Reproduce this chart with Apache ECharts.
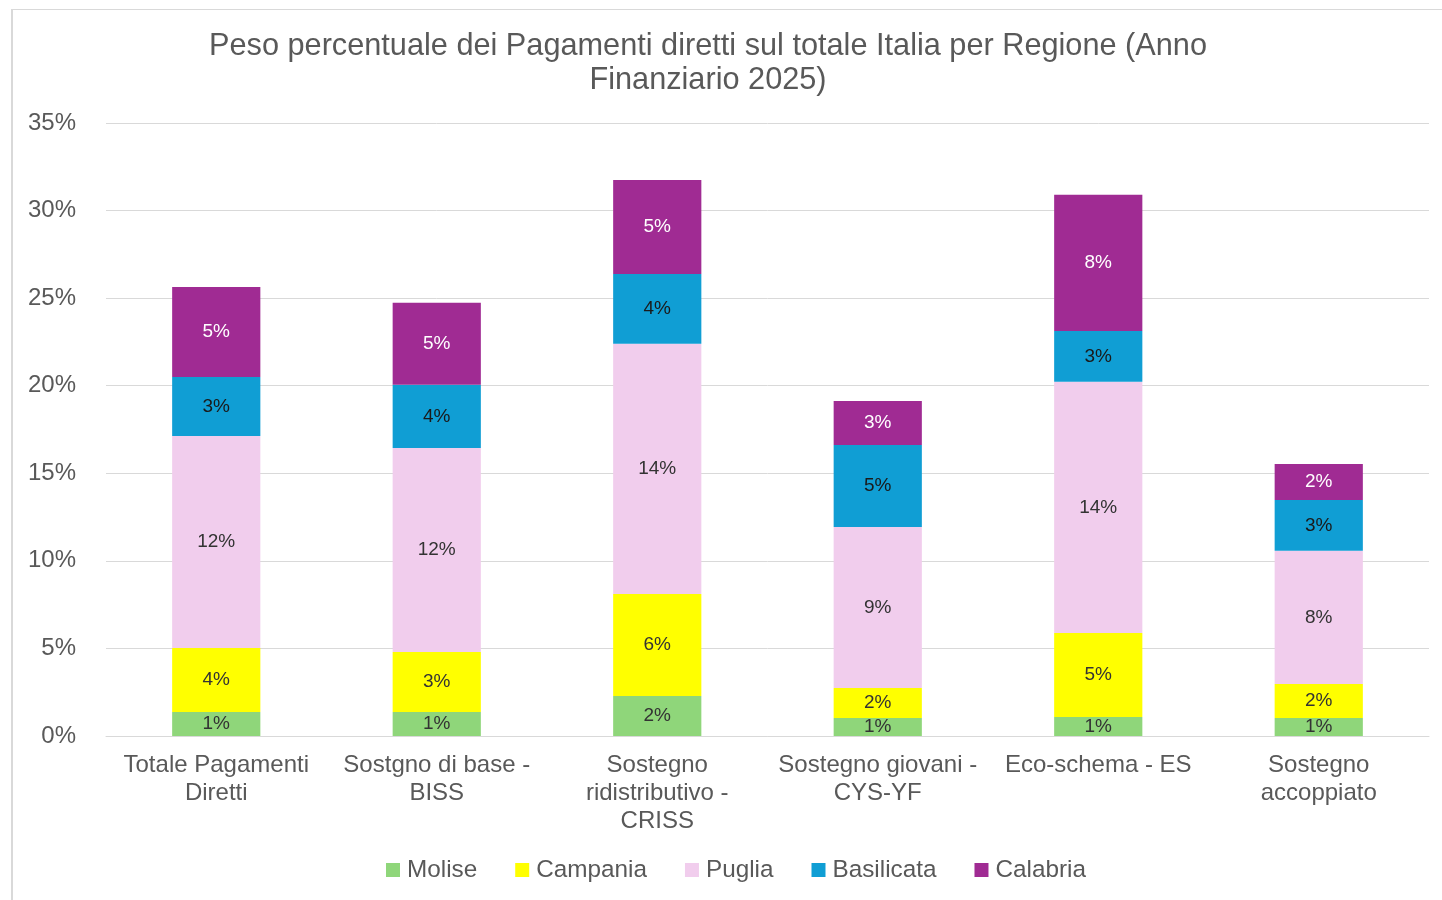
<!DOCTYPE html>
<html>
<head>
<meta charset="utf-8">
<script src="https://cdn.jsdelivr.net/npm/echarts@6/dist/echarts.min.js"></script>
<style>
  html, body { margin: 0; padding: 0; background: #ffffff; }
  #frame { position: absolute; left: 11px; top: 9px; width: 1440px; height: 900px; border-left: 2px solid #d9d9d9; border-top: 1px solid #d9d9d9; }
  #chart { position: absolute; left: 0; top: 0; width: 1442px; height: 900px; }
</style>
</head>
<body>
<div id="frame"></div>
<div id="chart"></div>
<script>
// Categories (payment types) and regional shares, in percent of the Italian total
const categories = [
  'Totale Pagamenti\nDiretti',
  'Sostgno di base -\nBISS',
  'Sostegno\nridistributivo -\nCRISS',
  'Sostegno giovani -\nCYS-YF',
  'Eco-schema - ES',
  'Sostegno\naccoppiato'
];
const molise     = [1.37, 1.37, 2.28, 1.03, 1.09, 1.03];
const campania   = [3.65, 3.43, 5.83, 1.71, 4.79, 1.94];
const puglia     = [12.11, 11.65, 14.28, 9.20, 14.34, 7.60];
const basilicata = [3.37, 3.60, 3.99, 4.68, 2.91, 2.91];
const calabria   = [5.14, 4.68, 5.37, 2.51, 7.77, 2.05];
const yTicks = [0, 5, 10, 15, 20, 25, 30, 35];

const FONT = 'Liberation Sans, Arial, sans-serif';
const chart = echarts.init(document.getElementById('chart'), null, { renderer: 'canvas' });

function stackSeries(name, data, color, labelColor) {
  return {
    name: name,
    type: 'bar',
    stack: 'total',
    data: data,
    barWidth: '40%',
    itemStyle: { color: color },
    label: {
      show: true,
      position: 'inside',
      color: labelColor,
      fontFamily: FONT,
      fontSize: 19,
      formatter: p => Math.round(p.value) + '%'
    }
  };
}

chart.setOption({
  animation: false,
  textStyle: { fontFamily: FONT },
  title: {
    text: 'Peso percentuale dei Pagamenti diretti sul totale Italia per Regione (Anno\nFinanziario 2025)',
    left: 703,
    top: 25,
    textAlign: 'center',
    textStyle: {
      fontFamily: FONT,
      fontSize: 30.7,
      fontWeight: 'normal',
      color: '#595959',
      lineHeight: 34
    }
  },
  legend: {
    top: 853,
    left: 381,
    itemWidth: 14,
    itemHeight: 14,
    itemGap: 38,
    icon: 'rect',
    textStyle: { fontSize: 24.3, color: '#595959', fontFamily: FONT, padding: [0, 0, 0, 2] },
    data: ['Molise', 'Campania', 'Puglia', 'Basilicata', 'Calabria']
  },
  grid: { left: 106, right: 13, top: 123, bottom: 164, containLabel: false },
  xAxis: {
    type: 'category',
    data: categories,
    axisTick: { show: false },
    axisLine: { lineStyle: { color: '#d9d9d9' } },
    axisLabel: {
      color: '#595959',
      fontSize: 24,
      lineHeight: 28,
      margin: 15,
      interval: 0,
      fontFamily: FONT
    }
  },
  yAxis: {
    type: 'value',
    min: yTicks[0],
    max: yTicks[yTicks.length - 1],
    interval: 5,
    axisLine: { show: false },
    axisTick: { show: false },
    splitLine: { lineStyle: { color: '#d9d9d9', width: 1 } },
    axisLabel: {
      color: '#595959',
      fontSize: 24,
      margin: 30,
      formatter: v => v + '%',
      fontFamily: FONT
    }
  },
  series: [
    stackSeries('Molise', molise, '#8fd67a', '#333333'),
    stackSeries('Campania', campania, '#ffff00', '#333333'),
    stackSeries('Puglia', puglia, '#f1cded', '#333333'),
    stackSeries('Basilicata', basilicata, '#109ed4', '#1a1a1a'),
    stackSeries('Calabria', calabria, '#a02b93', '#ffffff')
  ]
});
</script>
</body>
</html>
